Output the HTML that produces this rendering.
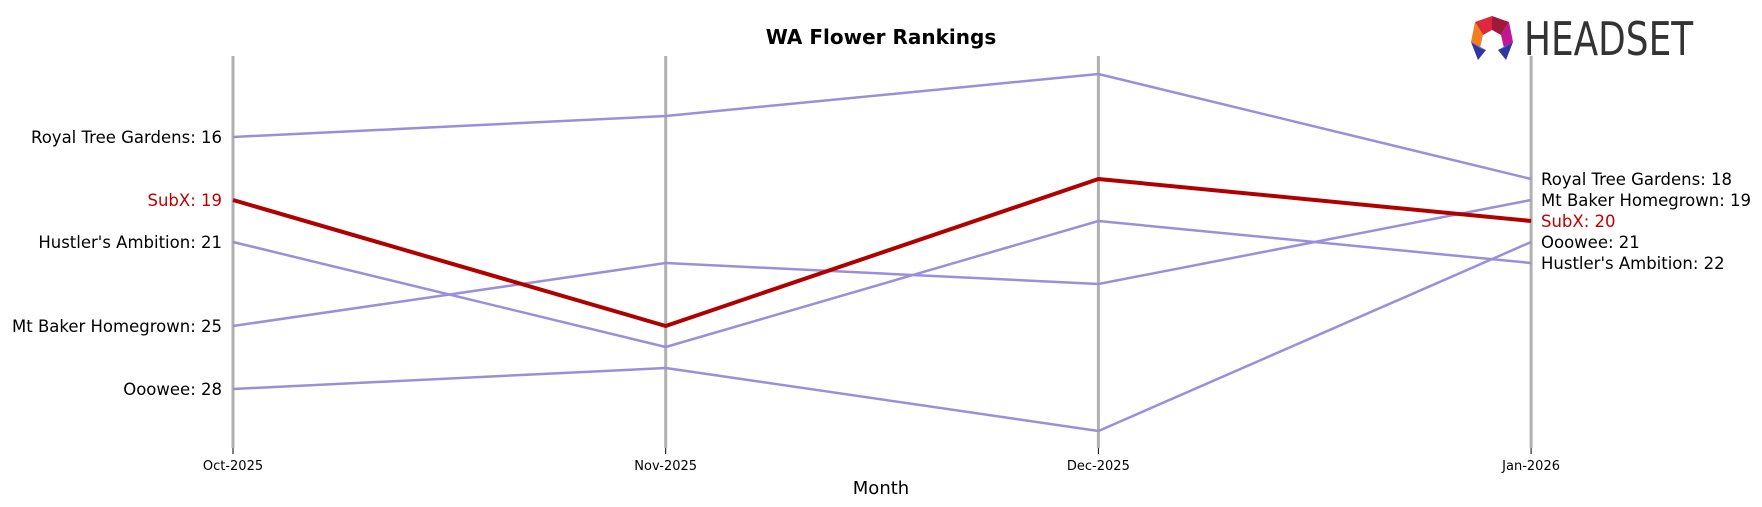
<!DOCTYPE html>
<html><head><meta charset="utf-8"><style>
body{margin:0;background:#fff}
svg{display:block}
text{font-family:"DejaVu Sans","Liberation Sans",sans-serif}
</style></head><body>
<svg id="chart" width="1762" height="507" viewBox="0 0 1762 507" xmlns="http://www.w3.org/2000/svg">
<text x="881" y="44" text-anchor="middle" font-size="20" font-weight="bold">WA Flower Rankings</text>
<g>
<polygon points="1475,22 1492,16 1492,30 1483,35" fill="#e0283c"/>
<polygon points="1492,16 1509,22 1501,35 1492,30" fill="#a0183a"/>
<polygon points="1475,22 1483,35 1480,48 1471,42" fill="#f08020"/>
<polygon points="1509,22 1513,42 1504,48 1501,35" fill="#c01890"/>
<polygon points="1471,42 1480,48 1486,50 1478,60" fill="#3038a0"/>
<polygon points="1471,42 1486,50 1480,48" fill="#6060e0"/>
<polygon points="1513,42 1498,50 1506,60" fill="#3038a0"/>
<polygon points="1513,42 1504,48 1498,50" fill="#6060e0"/>
<text x="1524" y="55" font-family="Liberation Sans,sans-serif" font-size="46" fill="#333" transform="translate(1524,0) scale(0.78,1) translate(-1524,0)">HEADSET</text>
</g>
<g id="plot"></g>
<text x="881" y="494" text-anchor="middle" font-size="18">Month</text>
</svg>
<script>
const months = ["Oct-2025","Nov-2025","Dec-2025","Jan-2026"];
const brands = ["Royal Tree Gardens","SubX","Hustler's Ambition","Mt Baker Homegrown","Ooowee"];
const rtg = [16,15,13,18];
const subx = [19,25,18,20];
const hustler = [21,26,20,22];
const mtbaker = [25,22,23,19];
const ooowee = [28,27,30,21];
const series = [rtg,subx,hustler,mtbaker,ooowee];
const NS="http://www.w3.org/2000/svg";
const g=document.getElementById('plot');
function xs(i){return 233+i*432.7;}
function ys(r){return 137+(r-16)*21;}
function mk(t,a){const e=document.createElementNS(NS,t);for(const k in a)e.setAttribute(k,a[k]);g.appendChild(e);return e;}
months.forEach((m,i)=>{
  const l=mk('line',{x1:xs(i),x2:xs(i),y1:56,y2:448,stroke:'#b0b0b0','stroke-width':3});
  
  
  const tk=mk('line',{x1:xs(i),x2:xs(i),y1:448,y2:454,stroke:'#000','stroke-width':1});
  
  
  const t=mk('text',{x:xs(i),y:470,'text-anchor':'middle','font-size':13});
  t.textContent=m;
  
  
});
const order=[0,2,3,4,1];
order.forEach(si=>{
  const s=series[si];const hi=si===1;
  const pl=mk('polyline',{points:s.map((v,i)=>xs(i)+','+ys(v)).join(' '),fill:'none',stroke:hi?'#b00000':'#9b8fdb','stroke-width':hi?4:2.5,'stroke-linejoin':'round'});
  
  
});
series.forEach((s,si)=>{
  const hi=si===1;const col=hi?'#c00000':'#000';
  const a=mk('text',{x:222,y:ys(s[0])+6,'text-anchor':'end','font-size':16.5,fill:col});
  a.textContent=brands[si]+': '+s[0];
  
  
  const b=mk('text',{x:1541,y:ys(s[3])+6,'text-anchor':'start','font-size':16.5,fill:col});
  b.textContent=brands[si]+': '+s[3];
  
  
});
</script>
</body></html>
